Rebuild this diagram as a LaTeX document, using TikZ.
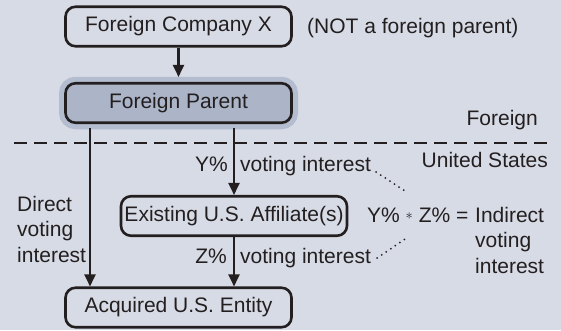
\documentclass[tikz,border=0pt]{standalone}
\usepackage{fontspec}
\setmainfont{Liberation Sans}
\usetikzlibrary{arrows.meta}
\definecolor{bg}{RGB}{215,219,229}
\definecolor{parentfill}{RGB}{172,180,200}
\definecolor{parentglow}{RGB}{180,189,208}
\definecolor{ink}{RGB}{35,31,32}
\begin{document}
\begin{tikzpicture}[x=1pt,y=-1pt,inner sep=0pt,
    font=\fontsize{21}{25.5}\selectfont,text=ink,
    box/.style={draw=ink,line width=2.6pt,rounded corners=10pt,
      minimum width=226pt,minimum height=39.5pt},
    arr/.style={draw=ink,line width=2.3pt,-{Triangle[length=12pt,width=11pt]}},
    dots/.style={draw=ink,line width=2pt,line cap=round,dash pattern=on 0pt off 5.5pt},
    border/.style={draw=ink,line width=2.5pt,dash pattern=on 13pt off 7pt}]
  \fill[bg] (0,0) rectangle (561,330);
  \useasboundingbox (0,0) rectangle (561,330);
  \draw
    (178.5,26.5) node[box] (fcx){Foreign Company X}
    (178.5,103) node[box,fill=parentfill,
      preaction={draw=parentglow,line width=13pt}] (fp){Foreign Parent}
    (234,216) node[box] (ex){Existing U.S. Affiliate(s)}
    (178.5,307.5) node[box] (acq){Acquired U.S. Entity};
  \coordinate (bl) at (14,143);
  \coordinate (br) at (552,143);
  \coordinate (dl) at (90,0);
  \coordinate (dt) at (408,193);
  \coordinate (db) at (408,237);
  % labels
  \node[anchor=base west] (note) at (307,33) {(NOT a foreign parent)};
  \node[anchor=base east] (for) at (538,125) {Foreign};
  \node[anchor=base east] (us) at (548,167) {United States};
  \node[anchor=base east] (yp) at (228,171) {Y\%};
  \node[anchor=base west] (yvi) at (240,171) {voting interest};
  \node[anchor=base east] (zp) at (227,263) {Z\%};
  \node[anchor=base west] (zvi) at (240,263) {voting interest};
  \node[anchor=north west,align=left] (dir) at (17,196) {Direct\\voting\\interest};
  \node[anchor=base west] (eq) at (367,222)
    {Y\% \raisebox{2.5pt}{\fontsize{14}{14}\selectfont$\ast$} Z\% =};
  \node[anchor=north west,align=left] (ind) at (475,207) {Indirect\\voting\\interest};
  % connectors
  \draw[border] (bl) -- (br);
  \begin{scope}
    \draw[arr,shorten >=5pt] (fcx) -- (fp);
    \draw[arr,shorten <=4pt] (fp.south -| dl) -- (acq.north -| dl);
    \draw[arr,shorten <=4pt] (ex.north |- fp.south) -- (ex.north);
    \draw[arr] (ex.south) -- (ex.south |- acq.north);
    \draw[dots] ([xshift=5pt,yshift=-1pt]yvi.base east) -- (dt);
    \draw[dots] ([xshift=6pt,yshift=5pt]zvi.base east) -- (db);
  \end{scope}
\end{tikzpicture}
\end{document}
